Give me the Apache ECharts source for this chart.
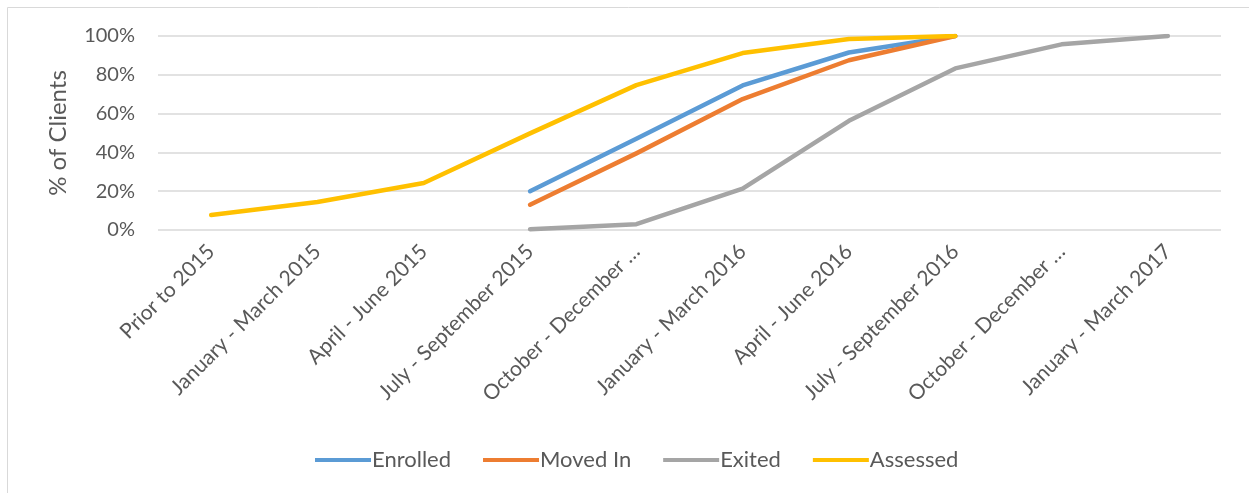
<!DOCTYPE html>
<html>
<head>
<meta charset="utf-8">
<script src="https://cdn.jsdelivr.net/npm/echarts@6/dist/echarts.min.js"></script>
<style>
html,body{margin:0;padding:0;background:#fff;}
#c{width:1249px;height:493px;}
</style>
</head>
<body>
<div id="c"></div>
<script>
var categories = ["Prior to 2015","January - March 2015","April - June 2015","July - September 2015","October - December 2015","January - March 2016","April - June 2016","July - September 2016","October - December 2016","January - March 2017"];
var tickLabels = ["Prior to 2015","January - March 2015","April - June 2015","July - September 2015","October - December …","January - March 2016","April - June 2016","July - September 2016","October - December …","January - March 2017"];
var enrolled = [null,null,null,20,47,74.5,91.5,100,null,null];
var movedIn  = [null,null,null,13,39.5,67.5,87.5,100,null,null];
var exited   = [null,null,null,0.4,3,21.3,56.3,83.3,95.7,100];
var assessed = [7.7,14.4,24.2,49.8,74.7,91.2,98.4,100,null,null];
var yTicks = [0,20,40,60,80,100];

var font = "Lato";
var chart = echarts.init(document.getElementById('c'));
function ser(name, data, color){
  return {name:name,type:'line',data:data,showSymbol:false,symbol:'none',connectNulls:false,
    lineStyle:{width:4.5,color:color,cap:'round',join:'round'},itemStyle:{color:color}};
}
chart.setOption({
  animation:false,
  graphic:[{type:'rect',shape:{x:7.5,y:7.5,width:1260,height:520},style:{fill:'none',stroke:'#D9D9D9',lineWidth:1}}],
  grid:{left:158,right:28,top:36,height:194,containLabel:false},
  legend:{top:444,left:310,itemWidth:56,itemHeight:4,itemGap:32,icon:'rect',
    textStyle:{fontFamily:font,fontSize:22,color:'#595959',padding:[0,0,0,-4]},
    data:['Enrolled','Moved In','Exited','Assessed']},
  xAxis:{type:'category',data:categories,boundaryGap:true,
    axisLine:{show:false},axisTick:{show:false},
    axisLabel:{rotate:45,interval:0,margin:18,fontFamily:font,fontSize:21,color:'#595959',
      formatter:function(v,i){return tickLabels[i];}}},
  yAxis:{type:'value',min:0,max:100,interval:20,
    name:'% of Clients',nameLocation:'middle',nameGap:88,nameRotate:90,
    nameTextStyle:{fontFamily:font,fontSize:24,color:'#595959'},
    axisLine:{show:false},axisTick:{show:false},
    splitLine:{lineStyle:{color:'#D9D9D9',width:1.5}},
    axisLabel:{margin:23,fontFamily:font,fontSize:20,color:'#595959',formatter:function(v){return v+'%';}}},
  series:[ser('Enrolled',enrolled,'#5B9BD5'),ser('Moved In',movedIn,'#ED7D31'),ser('Exited',exited,'#A5A5A5'),ser('Assessed',assessed,'#FFC000')]
});
</script>
</body>
</html>
